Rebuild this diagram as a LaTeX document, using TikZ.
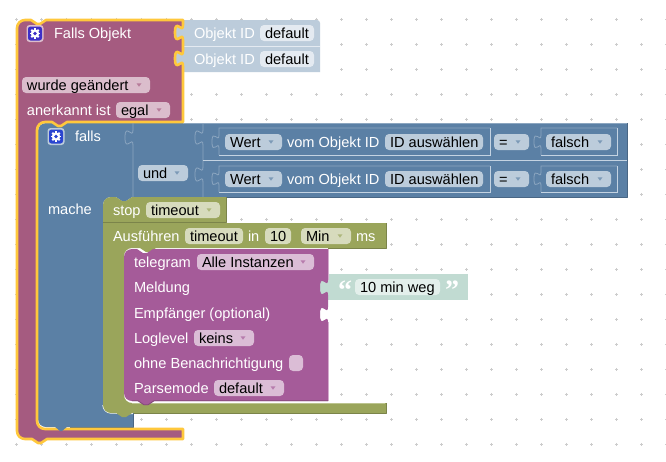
\documentclass[tikz,border=0pt]{standalone}
\usepackage{fontspec}
\setmainfont{Liberation Sans}
\definecolor{maroon}{HTML}{A55B80}
\definecolor{maroonF}{HTML}{DBBDCC}
\definecolor{bblue}{HTML}{5B80A5}
\definecolor{bblueF}{HTML}{BCCCDB}
\definecolor{bblueD}{HTML}{496684}
\definecolor{bblueL}{HTML}{8CA6C0}
\definecolor{bblueH}{HTML}{C4D3E2}
\definecolor{olive}{HTML}{9AA55B}
\definecolor{oliveF}{HTML}{D7DBBD}
\definecolor{oliveD}{HTML}{7B844A}
\definecolor{oliveL}{HTML}{BCC48F}
\definecolor{purp}{HTML}{A55B99}
\definecolor{purpF}{HTML}{DBBDD6}
\definecolor{purpD}{HTML}{844A7A}
\definecolor{purpL}{HTML}{D4ACCD}
\definecolor{pale}{HTML}{BCCCDB}
\definecolor{paleF}{HTML}{E4EAF1}
\definecolor{mint}{HTML}{C1DBD2}
\definecolor{mintF}{HTML}{E3EFEB}
\definecolor{sel}{HTML}{FFC83C}
\definecolor{gearM}{HTML}{3D2FC8}
\definecolor{gearB}{HTML}{2A45D0}
\tikzset{
 x=1pt,y=-1pt,
 blocktext/.style={anchor=base west,inner sep=0pt,outer sep=0pt,text=#1,font=\fontsize{14.6}{16}\selectfont},
 blocktext/.default=white,
 fieldbox/.style={rounded corners=4pt,fill=#1},
 edgeline/.style={line width=0.8pt,line join=round},
 selected/.style={draw=sel,line width=2.6pt,line join=round},
}
\newcommand\tabdown{.. controls +(0,10) and +(0,-15.5) .. ++(-8,7.5) .. controls +(0,15.5) and +(0,-10) .. ++(8,7.5)}
\newcommand\tabup{.. controls +(0,-10) and +(0,15.5) .. ++(-8,-7.5) .. controls +(0,-15.5) and +(0,10) .. ++(8,-7.5)}
\newcommand\lab[4][white]{\node[blocktext=#1] at (#2,#3+5) {#4};}
\newcommand\dropf[6]{\fill[fieldbox=#5] (#1,#3-8) rectangle (#2,#3+8);
 \node[blocktext=black] at (#1+5,#3+5) {#4};
 \fill[#6!80!white] (#2-13.5,#3-1.7) -- (#2-8.5,#3-1.7) -- (#2-11,#3+1.7) -- cycle;}
\newcommand\plainf[5]{\fill[fieldbox=#5] (#1,#3-8) rectangle (#2,#3+8);
 \node[blocktext=black] at (#1+5,#3+5) {#4};}
\newcommand\gear[4]{%
 \fill[#4,rounded corners=3pt] (#1-8.5,#2-8.5) rectangle (#1+8.5,#2+8.5);
 \fill[#3,rounded corners=2.5pt] (#1-7,#2-7) rectangle (#1+7,#2+7);
 \foreach \a in {0,45,...,315}{\draw[white,line width=1.8pt] (#1,#2) -- ($(#1,#2)+(\a:5.2)$);}
 \fill[white] (#1,#2) circle (4.2);
 \fill[#3] (#1,#2) circle (1.9);}
\usetikzlibrary{calc}
\begin{document}
\begin{tikzpicture}
\useasboundingbox (0,0) rectangle (666,461);
\fill[white] (0,0) rectangle (666,461);
% grid
\foreach \i in {0,...,26}{\foreach \j in {0,...,17}{
 \draw[black!20,line width=0.7pt] (16.7+25*\i-1.5,19.4+25*\j) -- ++(3,0) (16.7+25*\i,19.4+25*\j-1.5) -- ++(0,3);}}
% ID blocks
\fill[pale] (170,20) -- (317,20) arc[start angle=-90,end angle=0,radius=3] -- (320,72) -- (170,72) -- cycle;
\draw[paleF,line width=0.6pt] (184,46) -- (320,46);
% blue body
\fill[bblue] (46,123) -- (627,123) -- (627,197) -- (132,197) -- ++(-6,4) -- ++(-4,0) -- ++(-6,-4) -- (111,197)
 arc[start angle=-90,end angle=-180,radius=8] -- (103,405) arc[start angle=180,end angle=90,radius=8]
 -- (133,413) -- (133,427) -- (46,427) arc[start angle=90,end angle=180,radius=8] -- (38,131) arc[start angle=180,end angle=270,radius=8] -- cycle;
\draw[bblueD,edgeline] (627,123) -- (627,197) -- (226,197);
\draw[bblueL,edgeline] (183,123.4) -- (627,123.4);
\draw[bblueD,edgeline] (133,413) -- (133,427) -- (70,427);
\draw[white,line width=1.2pt] (103,405) arc[start angle=180,end angle=90,radius=8] -- (133,413.6);
% maroon
\path[fill=maroon,selected] (17,28) arc[start angle=180,end angle=270,radius=8] -- (31,20) -- ++(6,4) -- ++(3,0) -- ++(6,-4) -- (183,20)
 -- (183,25) \tabdown -- (183,51) \tabdown -- (183,122) -- (67,122) -- ++(-6,4) -- ++(-3,0) -- ++(-6,-4) -- (45,122)
 arc[start angle=-90,end angle=-180,radius=8] -- (37,421) arc[start angle=180,end angle=90,radius=8] -- (183,429) -- (183,439)
 -- (47,439) -- ++(-6,4) -- ++(-3,0) -- ++(-6,-4) -- (25,439) arc[start angle=90,end angle=180,radius=8] -- cycle;
% blue bottom bump
\fill[bblue] (54,426) -- (68,426) -- (62,431) -- (60,431) -- cycle;
% blue separators and tabs
\begin{scope}[bblueL,line width=0.8pt]
\draw (133,123) -- (133,130) \tabdown -- (133,197);
\draw (203,123) -- (203,130) \tabdown -- (203,167) \tabdown -- (203,197);
\draw (219,155) -- (219,148.5) .. controls +(0,-9) and +(0,14) .. ++(-7,-6.75) .. controls +(0,-14) and +(0,9) .. ++(7,-6.75) -- (219,128) -- (490,128);
\draw (219,192) -- (219,185.5) .. controls +(0,-9) and +(0,14) .. ++(-7,-6.75) .. controls +(0,-14) and +(0,9) .. ++(7,-6.75) -- (219,166) -- (490,166);
\draw (541,155) -- (541,148.5) .. controls +(0,-9) and +(0,14) .. ++(-7,-6.75) .. controls +(0,-14) and +(0,9) .. ++(7,-6.75) -- (541,128) -- (617,128);
\draw (541,192) -- (541,185.5) .. controls +(0,-9) and +(0,14) .. ++(-7,-6.75) .. controls +(0,-14) and +(0,9) .. ++(7,-6.75) -- (541,166) -- (617,166);
\end{scope}
\begin{scope}[bblueH,line width=0.8pt]
\draw (203,160) -- (627,160);
\draw (490,128) -- (490,155) -- (219,155);
\draw (490,166) -- (490,192) -- (219,192);
\draw (617,128) -- (617,155) -- (541,155);
\draw (617,166) -- (617,192) -- (541,192);
\end{scope}
% Olive
\fill[olive] (103,205) arc[start angle=180,end angle=270,radius=8] -- (116,197) -- ++(6,4) -- ++(4,0) -- ++(6,-4) -- (226,197) -- (226,222) -- (132,222) -- ++(-6,4) -- ++(-4,0) -- ++(-6,-4) -- (103,222) -- cycle;
\draw[oliveD,edgeline] (226,197) -- (226,222) -- (103,222);
\fill[olive] (103,223) -- (386,223) -- (386,248) -- (156,248) -- ++(-6,4) -- ++(-4,0) -- ++(-6,-4) -- (132,248) arc[start angle=-90,end angle=-180,radius=8]
 -- (124,395) arc[start angle=180,end angle=90,radius=8] -- (386,403) -- (386,413) -- (132,413) -- ++(-6,4) -- ++(-4,0) -- ++(-6,-4) -- (111,413) arc[start angle=90,end angle=180,radius=8] -- cycle;
\draw[oliveD,edgeline] (386,223) -- (386,248) -- (328,248);
\draw[oliveL,edgeline] (132,403.4) -- (385,403.4);
\draw[oliveD,edgeline] (386,403) -- (386,413) -- (134,413);
% Mint
\fill[mint] (318,274) -- (468,274) -- (468,300) -- (318,300) -- cycle;
% purple
\fill[purp] (132,249) -- (137,249) -- ++(6,4) -- ++(4,0) -- ++(6,-4) -- (328,249) -- (328,280) \tabdown -- (328,307) \tabdown -- (328,401) -- (154,401) -- ++(-6,4) -- ++(-4,0) -- ++(-6,-4) -- (132,401) arc[start angle=90,end angle=180,radius=8] -- (124,257) arc[start angle=180,end angle=270,radius=8] -- cycle;
\draw[purpL,edgeline] (328.4,249) -- (328.4,280) (328.4,322) -- (328.4,401);
\draw[purpD,edgeline] (328,400.8) -- (154,400.8) -- ++(-6,4) -- ++(-4,0) -- ++(-6,-4) -- (132,400.8);
% Gears
\gear{35}{33.5}{gearM}{maroonF}
\gear{56}{136.5}{gearB}{bblueF}
% Texts: top block
\lab{54}{33}{Falls Objekt}
\lab{194}{33}{Objekt ID}
\lab{194}{59}{Objekt ID}
\plainf{260}{314}{33}{default}{paleF}
\plainf{260}{314}{59}{default}{paleF}
\dropf{22}{150}{85}{wurde geändert}{maroonF}{maroon}
\lab{27}{110}{anerkannt ist}
\dropf{116}{170}{110}{egal}{maroonF}{maroon}
% falls
\lab{75}{136}{falls}
\lab{48}{209}{mache}
\dropf{138}{188}{173}{und}{bblueF}{bblue}
\foreach \yc in {142,179}{
 \dropf{225}{282}{\yc}{Wert}{bblueF}{bblue}
 \lab{287}{\yc}{vom Objekt ID}
 \plainf{385}{483}{\yc}{ID auswählen}{bblueF}
 \dropf{494}{529}{\yc}{=}{bblueF}{bblue}
 \dropf{546}{611}{\yc}{falsch}{bblueF}{bblue}
}
% olive
\lab{113}{210}{stop}
\dropf{146}{220}{210}{timeout}{oliveF}{olive}
\lab{113}{236}{Ausführen}
\plainf{185}{243}{236}{timeout}{oliveF}
\lab{248}{236}{in}
\plainf{265}{291}{236}{10}{oliveF}
\dropf{301}{351}{236}{Min}{oliveF}{olive}
\lab{356}{236}{ms}
% purple
\lab{134}{262}{telegram}
\dropf{197}{314}{262}{Alle Instanzen}{purpF}{purp}
\lab{134}{287}{Meldung}
\lab{134}{313}{Empfänger (optional)}
\lab{134}{338}{Loglevel}
\dropf{194}{254}{338}{keins}{purpF}{purp}
\lab{134}{363}{ohne Benachrichtigung}
\fill[fieldbox=purpF] (289,355) rectangle (303,371);
\lab{134}{388}{Parsemode}
\dropf{214}{284}{388}{default}{purpF}{purp}
% mint
\plainf{355}{440}{287}{10 min weg}{mintF}
\node[blocktext=white,font=\fontspec{Liberation Serif}\bfseries\fontsize{28}{30}\selectfont] at (338,299) {“};
\node[blocktext=white,font=\fontspec{Liberation Serif}\bfseries\fontsize{28}{30}\selectfont] at (445,299) {”};
\end{tikzpicture}
\end{document}
